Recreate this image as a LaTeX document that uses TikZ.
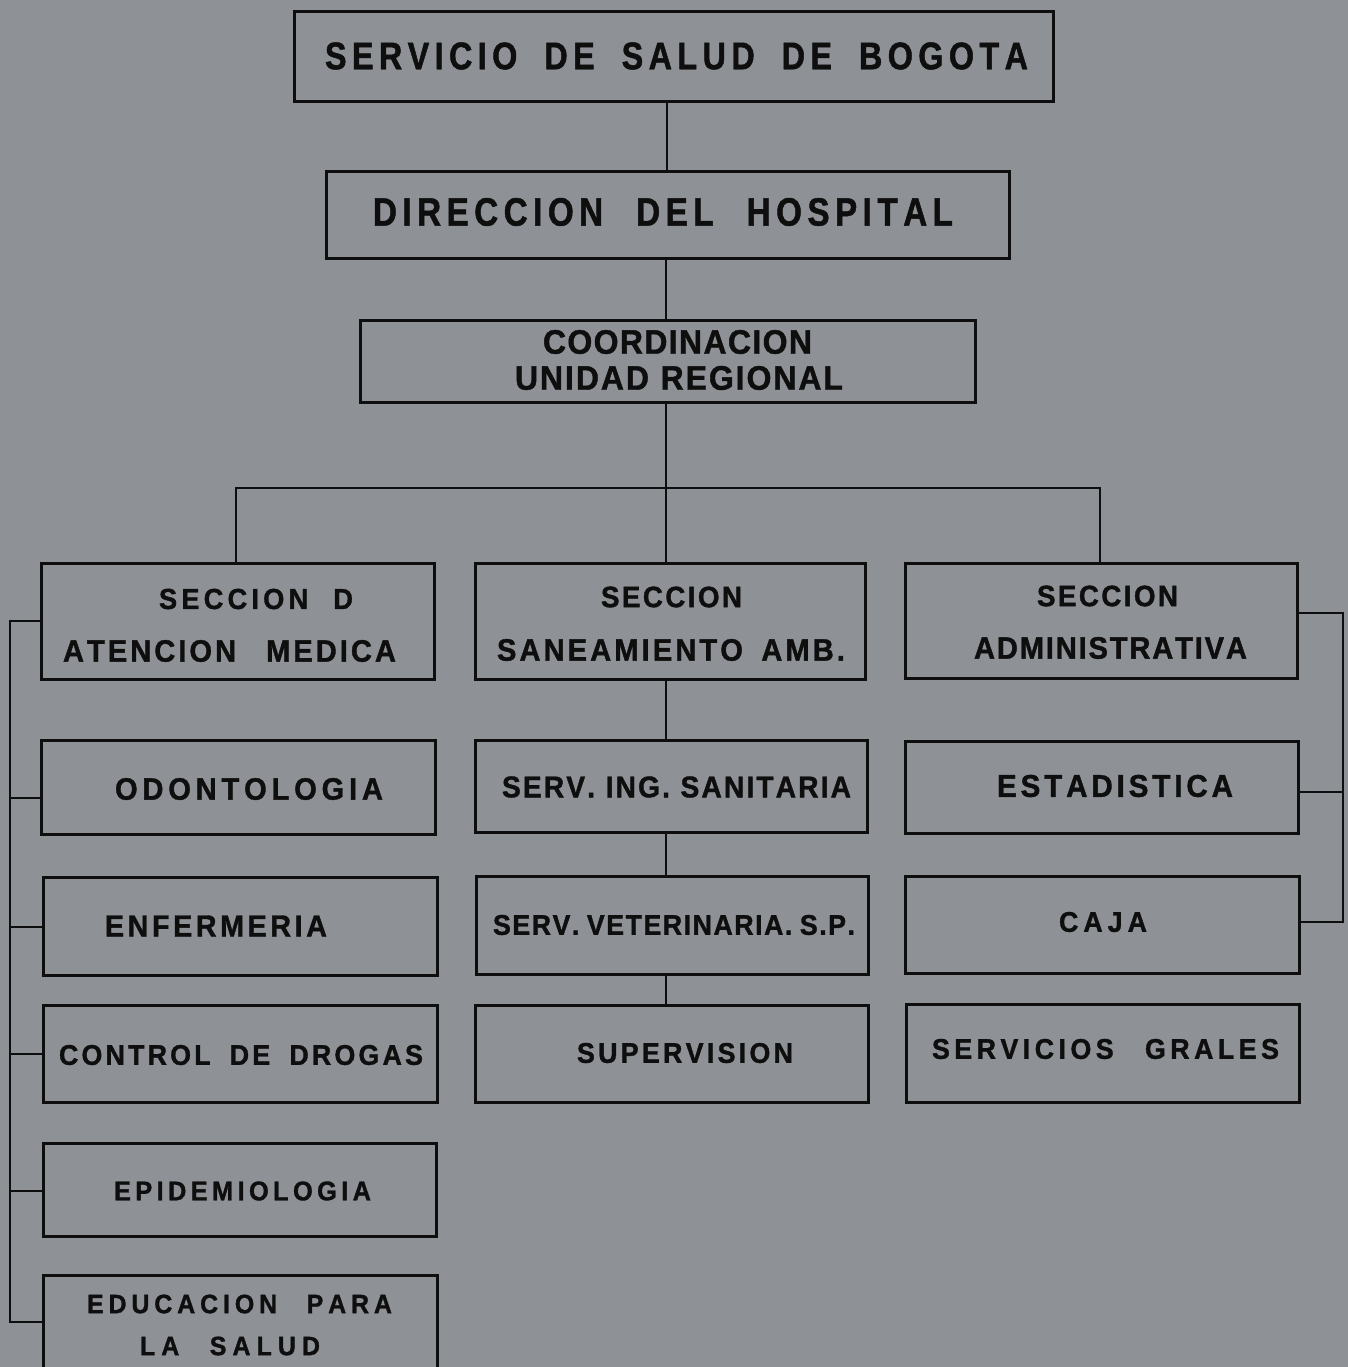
\documentclass[tikz,border=0pt]{standalone}
\usepackage{fontspec}
\newfontfamily\labf{Liberation Sans Bold}[FakeStretch=0.94,FakeBold=1.2]
\newfontfamily\narrowf{Liberation Sans Bold}[FakeStretch=0.84,FakeBold=1.2]
\definecolor{bg}{RGB}{142,145,149}
\definecolor{ink}{RGB}{14,14,14}
\ExplSyntaxOn
\bool_new:N \l_my_first_bool
\bool_new:N \l_my_firstl_bool
\seq_new:N \l_my_words_seq
\cs_new_protected:Npn \my_letters:n #1
  {
    \bool_set_true:N \l_my_firstl_bool
    \tl_map_inline:nn {#1}
      {
        \bool_if:NF \l_my_firstl_bool { \hskip 0pt plus 1fil }
        \bool_set_false:N \l_my_firstl_bool
        ##1
      }
  }
\NewDocumentCommand \spr { O{5} m m }
  {
    \seq_set_split:Nnn \l_my_words_seq { ~ } {#3}
    \hbox_to_wd:nn {#2}
      {
        \bool_set_true:N \l_my_first_bool
        \seq_map_inline:Nn \l_my_words_seq
          {
            \bool_if:NF \l_my_first_bool { \hskip 0pt plus #1 fil }
            \bool_set_false:N \l_my_first_bool
            \my_letters:n {##1}
          }
      }
  }
\ExplSyntaxOff
% box: name, x1, y1, x2, y2
\newcommand\bx[5]{\node[orgbox,minimum width={#4pt-#2pt},minimum height={#5pt-#3pt}] (#1) at ({(#2+#4)/2},{(#3+#5)/2}) {};}
% text: [word stretch] name, x1, x2, y-centre, size, text
\newcommand\tx[7][5]{\node[txt,font=\labf\fontsize{#6}{#6}\selectfont] (#2) at ({(#3+#4)/2},#5) {\spr[#1]{#4pt-#3pt}{#7}};}
\newcommand\txn[7][5]{\node[txt,font=\narrowf\fontsize{#6}{#6}\selectfont] (#2) at ({(#3+#4)/2},#5) {\spr[#1]{#4pt-#3pt}{#7}};}
\begin{document}
\begin{tikzpicture}[x=1pt,y=-1pt,
  orgbox/.style={draw=ink,line width=3pt,inner sep=0pt,outer sep=0pt},
  txt/.style={text=ink,inner sep=0pt,outer sep=0pt,anchor=center},
  con/.style={draw=ink,line width=2.2pt}]
\useasboundingbox (0,0) rectangle (1348,1367);
\fill[bg] (0,0) rectangle (1348,1367);
\clip (0,0) rectangle (1348,1367);

% boxes
\bx{title}{294}{12}{1053}{102}
\bx{dir}{326}{172}{1009}{258}
\bx{coord}{360}{320}{975}{402}
\bx{secL}{41}{563}{434}{679}
\bx{secM}{475}{563}{865}{679}
\bx{secR}{905}{563}{1297}{678}
\bx{odo}{41}{740}{435}{834}
\bx{ing}{475}{740}{867}{832}
\bx{est}{905}{741}{1298}{833}
\bx{enf}{43}{877}{437}{975}
\bx{vet}{476}{876}{868}{974}
\bx{caja}{905}{876}{1299}{973}
\bx{ctl}{43}{1005}{437}{1102}
\bx{sup}{475}{1005}{868}{1102}
\bx{grl}{906}{1004}{1299}{1102}
\bx{epi}{43}{1143}{436}{1236}
\bx{edu}{43}{1275}{437}{1395}

% texts
\txn[5]{titleT}{325}{1028}{56}{38.5}{SERVICIO DE SALUD DE BOGOTA}
\txn[6]{dirT}{373}{953}{212}{39.5}{DIRECCION DEL HOSPITAL}
\tx[4]{coordT1}{543}{812}{342}{34}{COORDINACION}
\tx[6]{coordT2}{515}{843}{378}{34}{UNIDAD REGIONAL}
\tx[6]{secLT1}{159}{353}{599}{29}{SECCION D}
\tx[10]{secLT2}{63}{396}{651}{31}{ATENCION MEDICA}
\tx[4]{secMT1}{601}{742}{597}{29.5}{SECCION}
\tx[6]{secMT2}{497}{845}{650}{31}{SANEAMIENTO AMB.}
\tx[4]{secRT1}{1037}{1178}{596}{29.5}{SECCION}
\tx[4]{secRT2}{974}{1247}{648}{31}{ADMINISTRATIVA}
\tx{odoT}{115}{383}{789}{31}{ODONTOLOGIA}
\tx[5]{ingT}{502}{851}{787}{30}{SERV. ING. SANITARIA}
\tx{estT}{997}{1233}{786}{31.5}{ESTADISTICA}
\tx{enfT}{105}{327}{926}{30.5}{ENFERMERIA}
\tx[5]{vetT}{493}{855}{925}{28.5}{SERV. VETERINARIA. S.P.}
\tx{cajaT}{1059}{1147}{922}{28.5}{CAJA}
\tx[6]{ctlT}{59}{423}{1055}{28.5}{CONTROL DE DROGAS}
\tx{supT}{577}{793}{1053}{28.5}{SUPERVISION}
\tx[7]{grlT}{932}{1279}{1049}{28.5}{SERVICIOS GRALES}
\tx{epiT}{114}{371}{1191}{27}{EPIDEMIOLOGIA}
\tx[6]{eduT1}{87}{392}{1304}{26.5}{EDUCACION PARA}
\tx[5]{eduT2}{140}{320}{1346}{26.5}{LA SALUD}

% main trunk
\coordinate (cT) at (667,0);
\coordinate (jL) at (236,488);
\coordinate (jM) at (666,488);
\coordinate (jR) at (1100,488);
\draw[con] (title.south -| cT) -- (dir.north -| cT);
\draw[con] (dir.south -| jM) -- (coord.north -| jM);
\draw[con] (coord.south -| jM) -- (secM.north -| jM);
\draw[con] (secL.north -| jL) -- (jL) -- (jR) -- (secR.north -| jR);

% middle column
\draw[con] (secM.south -| jM) -- (ing.north -| jM);
\draw[con] (ing.south -| jM) -- (vet.north -| jM);
\draw[con] (vet.south -| jM) -- (sup.north -| jM);

% left bus
\coordinate (lb1) at (10,621);
\coordinate (lb2) at (10,798);
\coordinate (lb3) at (10,927);
\coordinate (lb4) at (10,1054);
\coordinate (lb5) at (10,1191);
\coordinate (lb6) at (10,1322);
\draw[con] (secL.west |- lb1) -- (lb1) -- (lb6) -- (edu.west |- lb6);
\draw[con] (lb2) -- (odo.west |- lb2);
\draw[con] (lb3) -- (enf.west |- lb3);
\draw[con] (lb4) -- (ctl.west |- lb4);
\draw[con] (lb5) -- (epi.west |- lb5);

% right bus
\coordinate (rb1) at (1343,613);
\coordinate (rb2) at (1343,792);
\coordinate (rb3) at (1343,922);
\draw[con] (secR.east |- rb1) -- (rb1) -- (rb3) -- (caja.east |- rb3);
\draw[con] (rb2) -- (est.east |- rb2);
\end{tikzpicture}
\end{document}
